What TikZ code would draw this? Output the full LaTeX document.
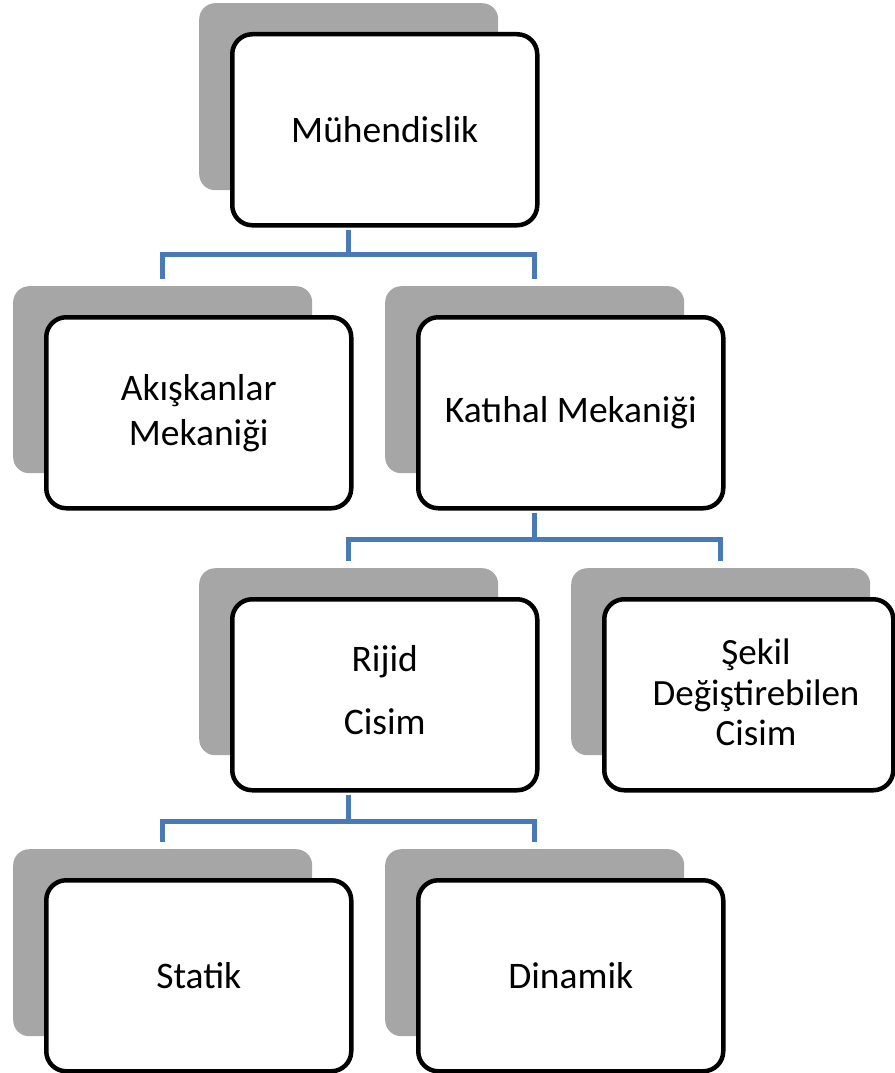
\documentclass[tikz,border=0pt]{standalone}
\usepackage{fontspec}
\setmainfont{Carlito}
\definecolor{shade}{RGB}{166,166,166}
\definecolor{linkblue}{RGB}{74,122,181}
\begin{document}
\begin{tikzpicture}[x=1pt,y=1pt,
  backbox/.style={fill=shade, draw=none, rounded corners=16pt, minimum width=299pt, minimum height=187pt, anchor=north west, inner sep=0pt},
  frontbox/.style={draw=black, line width=4.5pt, fill=white, rounded corners=20pt, minimum width=305pt, minimum height=191pt, anchor=north west, inner sep=0pt, align=center, font=\fontsize{37.5}{45}\selectfont},
  link/.style={draw=linkblue, line width=4.5pt}]
\useasboundingbox (0,0) rectangle (894,-1073);
% level 1
\node[backbox] (b1) at (199,-3) {};
\node[frontbox] (f1) at (230,-32) {Mühendislik};
% level 2
\node[backbox] (b2) at (13,-286) {};
\node[frontbox] (f2) at (44,-315) {Akışkanlar\\Mekaniği};
\node[backbox] (b3) at (385,-286) {};
\node[frontbox] (f3) at (416,-315) {Katıhal Mekaniği};
% level 3
\node[backbox] (b4) at (199,-568) {};
\node[frontbox] (f4) at (230,-597) {Rijid\\[18pt]Cisim\rule[-9pt]{0pt}{0pt}};
\node[backbox] (b5) at (571,-568) {};
\node[frontbox, minimum width=289pt] (f5) at (602,-597) {};
\node[align=center, inner sep=0pt, font=\fontsize{37}{40.5}\selectfont] (f5t) at (756,-692.5) {Şekil\\Değiştirebilen\\Cisim};
% level 4
\node[backbox] (b6) at (13,-849) {};
\node[frontbox] (f6) at (44,-878) {Statik};
\node[backbox] (b7) at (385,-849) {};
\node[frontbox] (f7) at (416,-878) {Dinamik};
% connectors
\draw[link] ([yshift=-2pt]b1.center |- f1.south) -- ++(0,-25) -| ([yshift=7pt]b2.north);
\draw[link] ([yshift=-2pt]b1.center |- f1.south) -- ++(0,-25) -| ([yshift=7pt]b3.north);
\draw[link] ([yshift=-2pt]b3.center |- f3.south) -- ++(0,-27) -| ([yshift=7pt]b4.north);
\draw[link] ([yshift=-2pt]b3.center |- f3.south) -- ++(0,-27) -| ([yshift=7pt]b5.north);
\draw[link] ([yshift=-2pt]b4.center |- f4.south) -- ++(0,-27) -| ([yshift=7pt]b6.north);
\draw[link] ([yshift=-2pt]b4.center |- f4.south) -- ++(0,-27) -| ([yshift=7pt]b7.north);
\end{tikzpicture}
\end{document}
